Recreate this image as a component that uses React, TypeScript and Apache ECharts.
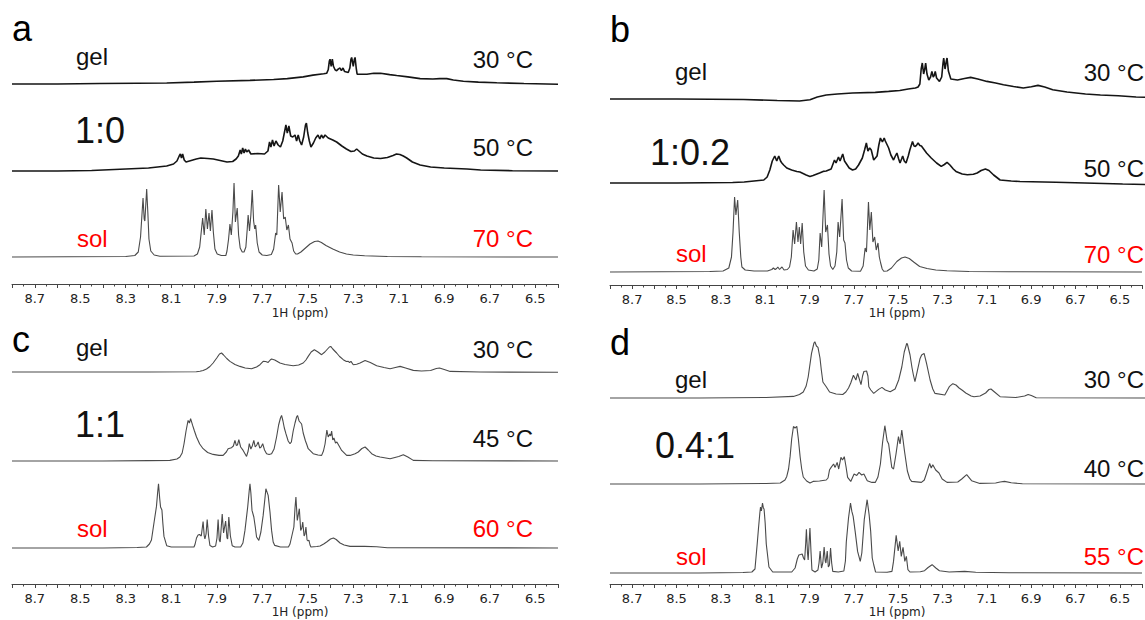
import React, { useEffect, useRef } from "react";
import * as echarts from "echarts";

type Pt = [number, number];

// ---------- spectra: [ppm, intensity above own baseline] ----------
const A_GEL: Pt[] = [[8.8,0],[8.6,0],[8.414,0.5],[8.25,0.8],[8.12,1],[8.0,2],[7.9,3],[7.754,4],[7.65,5],[7.59,6],[7.52,8],[7.477,10],[7.43,11.5],[7.417,12],[7.41,16],[7.405,26],[7.402,28],[7.397,20],[7.392,28],[7.387,20],[7.38,16],[7.373,15],[7.365,17],[7.358,18],[7.352,15],[7.345,18],[7.338,14],[7.322,13],[7.315,18],[7.31,28],[7.307,30],[7.3,20],[7.295,28],[7.292,30],[7.287,18],[7.283,11],[7.27,11],[7.24,11],[7.21,12],[7.18,12],[7.14,10.5],[7.109,9.5],[7.06,8],[7.006,6],[6.95,5.5],[6.92,6],[6.889,6],[6.86,4.5],[6.816,3],[6.75,2],[6.669,1.3],[6.55,0.5],[6.4,-0.3]];
const A_50: Pt[] = [[8.8,0],[8.6,0],[8.45,0.5],[8.3,2],[8.2,3],[8.12,5],[8.09,7],[8.075,10],[8.065,15],[8.06,17],[8.055,13],[8.05,17],[8.043,11],[8.035,9],[8.02,10],[7.99,12],[7.97,13],[7.94,12.5],[7.915,12],[7.885,10.5],[7.855,9],[7.83,9.5],[7.815,12],[7.805,15],[7.797,21],[7.792,17],[7.786,23],[7.78,18],[7.774,22],[7.768,19],[7.76,21],[7.75,17],[7.72,17.5],[7.69,17],[7.675,20],[7.668,29],[7.662,24],[7.655,31],[7.648,25],[7.64,30],[7.63,26],[7.62,24],[7.61,30],[7.603,38],[7.596,46],[7.59,38],[7.583,45],[7.575,35],[7.566,34],[7.556,36],[7.549,30],[7.542,36],[7.535,30],[7.527,26],[7.518,34],[7.51,46],[7.506,48],[7.5,38],[7.493,30],[7.486,24],[7.475,28],[7.465,33],[7.455,36],[7.447,32],[7.44,36],[7.432,33],[7.424,36],[7.41,33],[7.39,31],[7.373,29],[7.35,25],[7.33,22],[7.31,19.5],[7.295,20],[7.285,22],[7.275,20],[7.26,17],[7.24,15],[7.21,13],[7.18,12.5],[7.15,13.5],[7.125,15.5],[7.11,17],[7.095,16.5],[7.08,15],[7.065,13],[7.04,9],[7.006,6],[6.96,4],[6.9,3],[6.8,2],[6.74,1],[6.6,0.3],[6.4,0]];
const A_SOL: Pt[] = [[8.8,0],[8.3,0.5],[8.26,1.5],[8.245,5],[8.235,20],[8.228,45],[8.224,59],[8.219,38],[8.216,36],[8.208,68],[8.203,45],[8.198,18],[8.19,6],[8.175,2],[8.15,0.8],[8.0,1],[7.985,3],[7.975,10],[7.966,30],[7.962,39],[7.955,22],[7.948,48],[7.941,28],[7.934,44],[7.928,26],[7.921,47],[7.915,25],[7.908,8],[7.898,3],[7.88,1.5],[7.86,1.5],[7.855,6],[7.848,18],[7.842,33],[7.836,22],[7.829,45],[7.824,74],[7.818,35],[7.81,49],[7.804,22],[7.797,9],[7.788,5],[7.78,5],[7.772,10],[7.766,28],[7.762,42],[7.756,26],[7.75,42],[7.744,67],[7.738,36],[7.733,28],[7.729,32],[7.722,14],[7.714,5],[7.7,2],[7.68,1.5],[7.66,2.5],[7.65,8],[7.641,24],[7.636,22],[7.628,72],[7.621,45],[7.613,65],[7.606,38],[7.599,40],[7.592,27],[7.585,32],[7.578,18],[7.569,14],[7.562,6],[7.553,3],[7.545,3],[7.53,5],[7.51,9],[7.49,13],[7.47,15.5],[7.455,16],[7.44,14.5],[7.42,11.5],[7.39,8],[7.36,5],[7.33,3],[7.3,2],[7.25,1.2],[7.15,0.5],[7.0,0.2],[6.4,0]];

const B_GEL: Pt[] = [[8.8,0],[8.5,0],[8.2,-0.5],[8.05,-1.5],[7.95,-2],[7.903,-0.7],[7.87,2],[7.83,4],[7.78,5],[7.712,6],[7.61,6.6],[7.55,7.6],[7.5,8.5],[7.462,10],[7.43,11],[7.418,12],[7.41,15],[7.404,30],[7.399,36],[7.393,25],[7.388,30],[7.384,36],[7.378,25],[7.37,19],[7.362,22],[7.356,27.6],[7.35,22],[7.345,24],[7.341,27.6],[7.335,21],[7.322,17.6],[7.312,22],[7.306,36],[7.303,41],[7.297,30],[7.291,38],[7.288,41],[7.282,28],[7.271,20],[7.241,19],[7.21,20.5],[7.182,21.6],[7.15,20],[7.109,17.6],[7.07,16],[7.035,14.3],[6.99,12.5],[6.946,11],[6.91,12.3],[6.88,13.6],[6.85,12],[6.814,9.3],[6.75,7],[6.667,5],[6.6,4],[6.52,3.3],[6.44,2],[6.4,1.8]];
const B_50: Pt[] = [[8.8,0],[8.5,0],[8.25,0.5],[8.198,1],[8.11,3],[8.095,6],[8.083,13],[8.072,22],[8.061,27],[8.052,22],[8.043,27],[8.035,22],[8.029,20],[8.021,18],[8.007,15],[7.985,13],[7.962,11.5],[7.948,11],[7.92,8],[7.903,6.6],[7.889,7.5],[7.86,10],[7.844,11.6],[7.83,12],[7.808,14],[7.798,20],[7.793,23],[7.786,20],[7.775,26],[7.768,22],[7.756,29],[7.748,22],[7.742,20],[7.727,15],[7.712,13],[7.698,14],[7.685,18],[7.668,25],[7.658,33],[7.65,40],[7.643,32],[7.635,35],[7.628,33],[7.617,23],[7.602,27],[7.594,38],[7.587,45],[7.578,41],[7.57,45],[7.565,42],[7.55,35],[7.54,28],[7.528,23],[7.52,27],[7.513,30],[7.505,24],[7.499,20],[7.492,24],[7.487,27],[7.48,22],[7.472,20],[7.462,27],[7.455,33],[7.443,41.6],[7.436,37],[7.43,36.6],[7.424,38],[7.418,40],[7.41,37.5],[7.403,37],[7.38,30],[7.359,25],[7.335,20],[7.314,16.6],[7.3,18.5],[7.288,20.6],[7.275,18],[7.26,14],[7.248,11.6],[7.22,9],[7.197,8.3],[7.17,8.8],[7.153,10],[7.135,12.5],[7.116,14],[7.1,12.5],[7.079,8],[7.05,3],[7.0,2],[6.961,1.5],[6.8,0.8],[6.67,0],[6.5,-1],[6.4,-1.5]];
const B_SOL: Pt[] = [[8.8,0],[8.35,0.5],[8.29,1],[8.264,4],[8.252,15],[8.245,40],[8.238,75],[8.232,57],[8.224,72],[8.217,40],[8.21,15],[8.205,5],[8.19,2],[8.15,1],[8.09,1],[8.07,2.5],[8.063,4],[8.055,2.5],[8.048,3.5],[8.043,5],[8.035,2.5],[8.029,4],[8.024,5],[8.015,2],[8.0,2.5],[7.99,5],[7.982,15],[7.974,42],[7.967,28],[7.959,50],[7.952,30],[7.946,45],[7.94,28],[7.933,49],[7.926,20],[7.918,6],[7.905,2],[7.88,1],[7.865,3],[7.858,12],[7.852,39],[7.845,25],[7.834,82],[7.827,40],[7.819,47],[7.812,18],[7.805,6],[7.795,2.5],[7.785,6],[7.777,20],[7.771,50],[7.764,35],[7.753,73],[7.746,32],[7.74,29],[7.733,12],[7.725,4],[7.71,1],[7.67,0.8],[7.658,6],[7.649,24],[7.643,20],[7.634,70],[7.628,42],[7.621,60],[7.614,30],[7.606,35],[7.599,22],[7.591,29],[7.585,15],[7.579,9],[7.572,3],[7.565,0.8],[7.55,1],[7.53,4],[7.506,10.5],[7.485,14],[7.469,15],[7.45,13.5],[7.43,10],[7.403,5.5],[7.37,3.5],[7.33,2],[7.28,1.2],[7.18,0.5],[7.0,0.2],[6.4,0]];

const C_GEL: Pt[] = [[8.8,0],[8.2,0],[7.99,0.3],[7.974,0.8],[7.96,1.5],[7.945,3],[7.93,5.5],[7.916,9],[7.9,14],[7.888,18],[7.879,19],[7.87,17],[7.856,13.5],[7.842,10.6],[7.82,7.5],[7.798,5.6],[7.775,4],[7.747,3.2],[7.725,5],[7.71,7.3],[7.696,10.6],[7.685,10.5],[7.674,9.6],[7.665,12],[7.659,13],[7.645,12],[7.622,9],[7.6,7.5],[7.564,6.3],[7.54,7],[7.52,9],[7.508,12],[7.498,15.6],[7.485,20],[7.471,22.3],[7.455,20],[7.439,17.3],[7.425,20],[7.417,22],[7.405,25],[7.399,25.6],[7.39,23],[7.373,19],[7.36,15.5],[7.344,12.3],[7.33,10.5],[7.322,10.6],[7.316,9.5],[7.31,10.6],[7.3,7.3],[7.285,7.8],[7.27,9],[7.248,11.6],[7.225,9.5],[7.197,6.3],[7.165,4.5],[7.138,3.3],[7.115,4.5],[7.094,5.6],[7.07,4],[7.036,1.6],[7.0,1],[6.96,1.5],[6.935,3.5],[6.921,4],[6.9,2.5],[6.874,0.6],[6.742,0],[6.4,-0.3]];
const C_45: Pt[] = [[8.8,0],[8.4,0],[8.2,0.4],[8.106,0.6],[8.075,2],[8.062,4],[8.052,8],[8.044,17],[8.035,30],[8.026,40.6],[8.02,38],[8.015,42.3],[8.006,35.6],[7.998,30],[7.989,24],[7.975,17],[7.96,12.3],[7.94,8.5],[7.916,6.6],[7.89,5.6],[7.872,5.6],[7.858,9],[7.85,12.3],[7.835,13.3],[7.827,15],[7.82,20.6],[7.814,15.6],[7.809,16],[7.803,21.3],[7.795,14],[7.784,10.6],[7.769,4.6],[7.762,10],[7.757,17.3],[7.75,12],[7.744,15],[7.737,20.6],[7.731,14],[7.724,16],[7.718,19],[7.711,13],[7.705,14],[7.698,17.3],[7.69,11],[7.681,7.3],[7.67,6.5],[7.659,7.3],[7.648,12],[7.637,24],[7.628,36],[7.62,43],[7.615,45.6],[7.609,40],[7.603,33],[7.596,27.3],[7.586,20],[7.578,17.3],[7.572,19],[7.564,30],[7.556,38],[7.549,44],[7.545,45.6],[7.538,40],[7.527,37],[7.52,28],[7.51,20],[7.505,17],[7.498,12.3],[7.476,7.3],[7.455,6],[7.439,5.6],[7.431,10],[7.424,17],[7.416,31],[7.41,24],[7.403,27],[7.399,25],[7.395,30],[7.39,21],[7.385,23],[7.378,18],[7.372,19],[7.362,15],[7.351,10.6],[7.329,5.6],[7.314,5.6],[7.292,7.3],[7.278,9],[7.262,12.5],[7.248,14],[7.234,11],[7.219,7.3],[7.2,5],[7.182,4],[7.138,2.3],[7.1,4.5],[7.08,6.3],[7.06,4],[7.036,0.6],[6.95,0.2],[6.4,0]];
const C_SOL: Pt[] = [[8.8,0],[8.4,0],[8.25,0.5],[8.209,1],[8.196,4],[8.187,8],[8.176,25],[8.165,41.6],[8.16,55],[8.156,64.3],[8.151,50],[8.147,41],[8.141,38],[8.137,25],[8.132,11.6],[8.12,2.3],[8.1,1],[8.0,1],[7.995,4],[7.989,10],[7.982,13],[7.976,13.5],[7.968,12],[7.96,26.5],[7.955,12],[7.952,9],[7.947,14],[7.942,28.5],[7.936,12],[7.93,2.5],[7.918,1],[7.905,2],[7.899,10],[7.894,28.5],[7.889,8],[7.885,6],[7.876,34],[7.87,15],[7.861,27],[7.855,10],[7.852,9],[7.847,31],[7.84,12],[7.832,2.3],[7.82,1],[7.795,1],[7.785,5],[7.776,17.6],[7.764,41],[7.757,58],[7.754,64.3],[7.75,55],[7.745,37.6],[7.737,31],[7.73,20],[7.725,11],[7.715,7.6],[7.706,16],[7.696,32.6],[7.688,50],[7.684,59.3],[7.674,52.6],[7.666,36],[7.659,17.6],[7.652,6],[7.645,2.6],[7.62,1],[7.585,1],[7.578,4],[7.571,11],[7.561,21],[7.556,40],[7.552,51],[7.546,27.6],[7.541,34],[7.537,39.3],[7.531,17.6],[7.526,20],[7.522,26],[7.516,12],[7.512,14],[7.508,21],[7.503,8],[7.499,7],[7.495,8],[7.49,3],[7.486,1],[7.46,1.5],[7.446,2],[7.43,4],[7.417,6],[7.4,9],[7.387,10],[7.375,8.5],[7.358,5],[7.34,3],[7.314,1.6],[7.25,1.6],[7.197,1.2],[7.15,0.3],[6.4,0]];

const D_GEL: Pt[] = [[8.8,0],[8.4,0],[8.1,0.5],[7.977,1.6],[7.95,3.5],[7.933,6],[7.92,12],[7.911,21],[7.896,44.6],[7.885,55],[7.881,56.3],[7.874,52],[7.867,50.6],[7.858,40],[7.852,28],[7.845,16],[7.83,11.3],[7.815,6],[7.786,4],[7.756,3.5],[7.742,6],[7.73,10],[7.72,15],[7.708,22.8],[7.697,18],[7.689,24.6],[7.683,20],[7.674,13.3],[7.667,22],[7.661,26.5],[7.649,27],[7.643,22],[7.639,11.3],[7.63,8],[7.617,4.6],[7.595,8.6],[7.58,10.6],[7.565,8],[7.543,6.3],[7.521,9],[7.505,18],[7.491,31],[7.48,46],[7.469,54.5],[7.466,54],[7.454,43],[7.445,30],[7.439,23],[7.432,16.3],[7.422,26.3],[7.409,39.6],[7.402,43],[7.391,44.6],[7.38,34.6],[7.364,18],[7.352,9],[7.342,4.6],[7.298,3],[7.278,11.3],[7.262,14.3],[7.248,13],[7.234,10],[7.218,7.5],[7.204,5],[7.18,2],[7.167,1.3],[7.14,2],[7.115,5],[7.1,8.5],[7.091,9],[7.075,6],[7.05,1.3],[6.98,0.5],[6.94,2],[6.924,3.6],[6.91,2.5],[6.888,0.3],[6.4,0]];
const D_40: Pt[] = [[8.8,0],[8.4,0],[8.1,0.5],[8.036,1],[8.015,4],[8.007,7.6],[7.999,15],[7.992,27.6],[7.985,45],[7.977,57.5],[7.97,56],[7.962,57.6],[7.955,45],[7.947,27],[7.94,15],[7.933,7],[7.918,3],[7.903,1],[7.889,2.6],[7.86,3],[7.83,4],[7.822,6],[7.815,14.3],[7.808,16.6],[7.797,20],[7.79,16.6],[7.781,21.6],[7.774,15],[7.764,26.6],[7.757,24],[7.749,27.3],[7.741,17],[7.734,6.6],[7.72,2.6],[7.705,10],[7.693,8.6],[7.683,11.6],[7.671,9],[7.661,10],[7.646,3.3],[7.625,1.6],[7.61,1.6],[7.598,7],[7.587,20],[7.577,42],[7.567,58.3],[7.557,43.3],[7.55,40],[7.536,16.6],[7.528,15],[7.517,30],[7.506,47.3],[7.499,40],[7.491,54],[7.479,33],[7.466,13],[7.455,5],[7.447,2.6],[7.403,1.6],[7.39,4],[7.381,10],[7.366,20.6],[7.359,16],[7.352,19.3],[7.339,14],[7.324,11],[7.31,5],[7.288,1.6],[7.24,2],[7.222,5],[7.2,9.3],[7.178,3.3],[7.141,0.6],[7.07,1],[7.05,2],[7.03,2.6],[7.0,1.2],[6.95,0.3],[6.4,0]];
const D_SOL: Pt[] = [[8.8,0],[8.4,0],[8.2,0.5],[8.16,1],[8.146,4],[8.136,29],[8.13,45],[8.124,60],[8.121,66],[8.117,62],[8.112,70],[8.108,65],[8.105,64],[8.1,50],[8.095,29],[8.083,6],[8.066,1],[7.98,1],[7.965,5],[7.955,14],[7.948,18],[7.94,18.5],[7.933,19],[7.927,15],[7.922,13],[7.917,30],[7.914,43.6],[7.909,20],[7.906,13],[7.902,30],[7.898,45],[7.893,20],[7.889,3],[7.875,1],[7.862,3],[7.857,10],[7.852,22],[7.846,5],[7.84,10],[7.834,26],[7.829,12],[7.826,10],[7.82,22],[7.815,6],[7.81,8],[7.805,25],[7.8,10],[7.795,1.6],[7.77,1],[7.745,2],[7.738,12],[7.734,31],[7.724,55],[7.715,70],[7.709,61.6],[7.703,56.6],[7.694,41.6],[7.683,21.6],[7.671,11.6],[7.664,20],[7.653,53.3],[7.64,73.3],[7.631,58.3],[7.624,41.6],[7.617,15],[7.61,8],[7.602,1],[7.55,0.8],[7.528,1.6],[7.521,11.6],[7.509,37.6],[7.5,22],[7.493,31.6],[7.486,16.6],[7.478,25.6],[7.47,11.6],[7.463,16.6],[7.456,3.3],[7.447,1],[7.4,1.2],[7.381,2.3],[7.365,5.5],[7.347,8.3],[7.33,5],[7.314,2.3],[7.27,1],[7.2,1.6],[7.15,0.8],[7.0,0.3],[6.4,0]];

// ---------- axis ----------
const PPM_MIN = 6.4;
const PPM_MAX = 8.8;
const PPM_STEP = 0.1;
const AXIS_NAME = "1H (ppm)";

// ---------- labels ----------
const PANEL_LETTERS = ["a", "b", "c", "d"];
const RATIOS = ["1:0", "1:0.2", "1:1", "0.4:1"];
const TEMPS = [
  ["30 °C", "50 °C", "70 °C"],
  ["30 °C", "50 °C", "70 °C"],
  ["30 °C", "45 °C", "60 °C"],
  ["30 °C", "40 °C", "55 °C"],
];
const STATE_TOP = "gel";
const STATE_BOTTOM = "sol";

// ---------- layout (pixels) ----------
const W = 1145;
const H = 620;
const LAYOUT = [
  { left: 12, width: 546, axisY: 284, bases: [83, 171, 257], letter: [12, 41], state: [76, 65, 247], ratio: [75, 143], tempX: 533, tempY: [68, 156, 247], nameX: 300, nameY: 317, noisy: true },
  { left: 610, width: 543, axisY: 285, bases: [99, 183, 272], letter: [610, 42], state: [675, 80, 262], ratio: [650, 165], tempX: 1144, tempY: [81, 177, 263], nameX: 897, nameY: 317, noisy: true },
  { left: 12, width: 546, axisY: 584, bases: [372, 461, 548], letter: [12, 352], state: [76, 356, 537], ratio: [75, 437], tempX: 533, tempY: [358, 447, 537], nameX: 300, nameY: 616, noisy: false },
  { left: 610, width: 543, axisY: 584, bases: [398, 484, 573], letter: [610, 355], state: [675, 388, 565], ratio: [655, 458], tempX: 1144, tempY: [388, 477, 565], nameX: 897, nameY: 616, noisy: false },
];
const SPECTRA: Pt[][][] = [
  [A_GEL, A_50, A_SOL],
  [B_GEL, B_50, B_SOL],
  [C_GEL, C_45, C_SOL],
  [D_GEL, D_40, D_SOL],
];

const HEAD = 95;
const PAD = 8;
const ARIAL = '"Liberation Sans", Arial, sans-serif';
const DEJAVU = '"DejaVu Sans", Verdana, sans-serif';

function textEl(text: string, x: number, baseline: number, fs: number, color: string, align: string, family: string) {
  return {
    type: "text",
    x,
    y: baseline - 0.3465 * fs,
    silent: true,
    style: { text, fill: color, font: `${fs}px ${family}`, align, verticalAlign: "middle" },
  };
}

export default function App() {
  const ref = useRef<HTMLDivElement>(null);
  useEffect(() => {
    if (!ref.current) return;
    const chart = echarts.init(ref.current, null, { renderer: "svg", width: W, height: H });
    const grid: any[] = [];
    const xAxis: any[] = [];
    const yAxis: any[] = [];
    const series: any[] = [];
    const graphic: any[] = [];

    LAYOUT.forEach((L, p) => {
      SPECTRA[p].forEach((data, k) => {
        const base = L.bases[k];
        const isSol = k === 2;
        const pad = isSol ? L.axisY - base : PAD;
        const idx = grid.length;
        grid.push({ left: L.left, width: L.width, top: base - HEAD, height: HEAD + pad });
        xAxis.push({
          type: "value",
          gridIndex: idx,
          min: PPM_MIN,
          max: PPM_MAX,
          interval: PPM_STEP,
          inverse: true,
          show: isSol,
          axisLine: { show: true, onZero: false, lineStyle: { color: "#444", width: 1 } },
          axisTick: { show: true, length: 4, lineStyle: { color: "#444", width: 1 } },
          minorTick: { show: true, splitNumber: 2, length: 2.5, lineStyle: { color: "#444", width: 1 } },
          splitLine: { show: false },
          axisLabel: {
            show: true,
            margin: 8,
            color: "#222",
            fontSize: 13,
            fontFamily: DEJAVU,
            formatter: (v: number) => (Math.round(v * 10) % 2 === 1 ? v.toFixed(1) : ""),
          },
        });
        yAxis.push({ type: "value", gridIndex: idx, min: -pad, max: HEAD, show: false, splitLine: { show: false } });
        const noisy = L.noisy && k < 2;
        series.push({
          type: "line",
          xAxisIndex: idx,
          yAxisIndex: idx,
          data,
          showSymbol: false,
          symbol: "none",
          silent: true,
          clip: false,
          lineStyle: noisy ? { color: "#151515", width: 1.6 } : { color: "#4a4a4a", width: 1.1 },
        });
      });

      graphic.push(textEl(PANEL_LETTERS[p], L.letter[0], L.letter[1], 36, "#000", "left", ARIAL));
      graphic.push(textEl(STATE_TOP, L.state[0], L.state[1], 24, "#111", "left", ARIAL));
      graphic.push(textEl(STATE_BOTTOM, L.state[0] + 1, L.state[2], 24, "#ff0000", "left", ARIAL));
      graphic.push(textEl(RATIOS[p], L.ratio[0], L.ratio[1], 36, "#111", "left", ARIAL));
      TEMPS[p].forEach((t, k) => {
        graphic.push(textEl(t, L.tempX, L.tempY[k], 24, k === 2 ? "#ff0000" : "#111", "right", ARIAL));
      });
      graphic.push(textEl(AXIS_NAME, L.nameX, L.nameY, 12, "#222", "center", DEJAVU));
    });

    chart.setOption({
      animation: false,
      backgroundColor: "#ffffff",
      grid,
      xAxis,
      yAxis,
      series,
      graphic,
    });
    return () => chart.dispose();
  }, []);

  return (
    <div style={{ position: "absolute", left: 0, top: 0, width: W, height: H, overflow: "hidden", background: "#fff" }}>
      <div ref={ref} style={{ width: W, height: H }} />
    </div>
  );
}
